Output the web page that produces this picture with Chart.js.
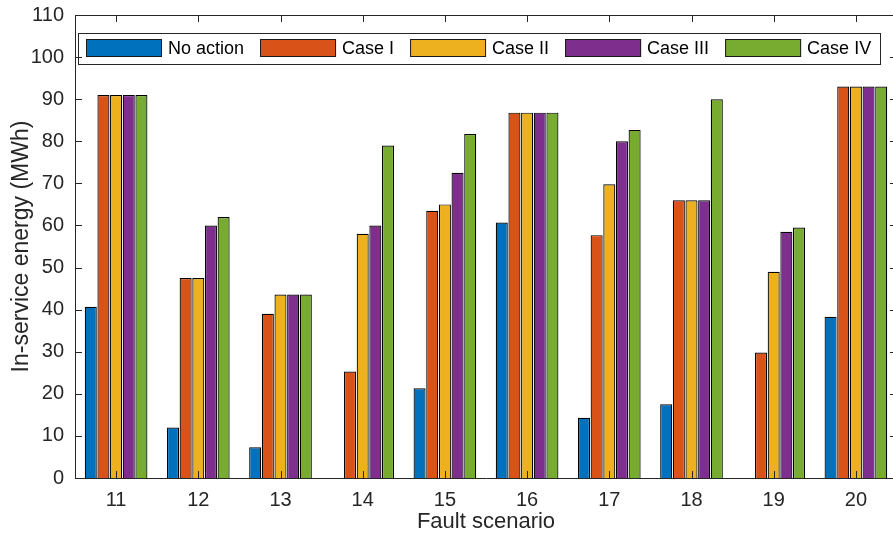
<!DOCTYPE html>
<html>
<head>
<meta charset="utf-8">
<title>In-service energy by fault scenario</title>
<script src="https://cdn.jsdelivr.net/npm/chart.js"></script>
<style>
  html, body { margin: 0; padding: 0; background: #fff; overflow: hidden; }
  #wrap { width: 900px; height: 535px; }
</style>
</head>
<body>
<div id="wrap"><canvas id="chart" width="900" height="535"></canvas></div>
<script>
// values (MWh)
const scenarios = ["11", "12", "13", "14", "15", "16", "17", "18", "19", "20"];
const noAction = [40.7, 12, 7.3, 0, 21.3, 60.7, 14.3, 17.5, 0, 38.3];
const caseI    = [91, 47.5, 39, 25.3, 63.5, 86.8, 57.7, 66, 29.8, 93];
const caseII   = [91, 47.5, 43.6, 58, 65, 86.8, 69.8, 66, 49, 93];
const caseIII  = [91, 60, 43.6, 60, 72.5, 86.8, 80, 66, 58.5, 93];
const caseIV   = [91, 62, 43.6, 79, 81.7, 86.8, 82.7, 90, 59.5, 93];

const seriesNames = ["No action", "Case I", "Case II", "Case III", "Case IV"];
const seriesColors = ["#0072BD", "#D95319", "#EDB120", "#7E2F8E", "#77AC30"];
const seriesData = [noAction, caseI, caseII, caseIII, caseIV];

const axisColor = "#262626";
const fontFamily = "'Liberation Sans', Arial, sans-serif";
Chart.defaults.font.family = fontFamily;
Chart.defaults.color = axisColor;

// MATLAB-ish legend box inside the axes (one row)
const legendPlugin = {
  id: "boxLegend",
  afterDatasetsDraw(chart) {
    const {ctx, chartArea: a} = chart;
    const boxW = 76, boxH = 18, gap = 6, spacing = 16;
    let x = a.left + 11;
    const top = a.top + 24;
    ctx.save();
    ctx.font = "18px " + fontFamily;
    ctx.textBaseline = "middle";
    const items = chart.data.datasets.map(ds => ({ label: ds.label, color: ds.backgroundColor }));
    let endX = x;
    items.forEach((it) => {
      ctx.fillStyle = it.color;
      ctx.fillRect(x, top, boxW, boxH);
      ctx.strokeStyle = "#1a1a1a";
      ctx.lineWidth = 1;
      ctx.strokeRect(x + 0.5, top + 0.5, boxW - 1, boxH - 1);
      ctx.fillStyle = "#000";
      ctx.fillText(it.label, x + boxW + gap, top + boxH / 2 + 1);
      const w = ctx.measureText(it.label).width;
      endX = x + boxW + gap + w;
      x = endX + spacing;
    });
    ctx.strokeStyle = axisColor;
    ctx.strokeRect(a.left + 3.5, a.top + 18.5, Math.round(endX + 9 - a.left - 3), 31);
    ctx.restore();
  }
};

// inward ticks on all four sides plus top/right box lines
const boxPlugin = {
  id: "matlabBox",
  afterDraw(chart) {
    const {ctx, chartArea: a, scales: {x, y}} = chart;
    const len = 7;
    ctx.save();
    ctx.strokeStyle = axisColor;
    ctx.lineWidth = 1;
    ctx.beginPath();
    y.ticks.forEach(t => {
      const py = Math.round(y.getPixelForValue(t.value)) + 0.5;
      ctx.moveTo(a.left, py); ctx.lineTo(a.left + len, py);
      ctx.moveTo(a.right, py); ctx.lineTo(a.right - len, py);
    });
    scenarios.forEach((_, i) => {
      const px = Math.round(x.getPixelForTick(i)) + 0.5;
      ctx.moveTo(px, a.bottom); ctx.lineTo(px, a.bottom - len);
      ctx.moveTo(px, a.top); ctx.lineTo(px, a.top + len);
    });
    ctx.moveTo(a.left, Math.round(a.top) + 0.5); ctx.lineTo(a.right, Math.round(a.top) + 0.5);
    ctx.moveTo(Math.round(a.right) + 0.5, a.top); ctx.lineTo(Math.round(a.right) + 0.5, a.bottom);
    ctx.stroke();
    ctx.restore();
  }
};

new Chart(document.getElementById("chart"), {
  type: "bar",
  data: {
    labels: scenarios,
    datasets: seriesNames.map((name, i) => ({
      label: name,
      data: seriesData[i],
      backgroundColor: seriesColors[i],
      borderColor: "#000",
      borderWidth: 1.2,
      categoryPercentage: 0.77,
      barPercentage: 0.95,
    })),
  },
  options: {
    responsive: false,
    animation: false,
    devicePixelRatio: 1,
    layout: { padding: { top: 13, right: 3, left: 0, bottom: 0 } },
    plugins: {
      tooltip: { enabled: false },
      legend: { display: false },
    },
    scales: {
      x: {
        grid: { display: false },
        border: { display: true, color: axisColor, width: 1 },
        ticks: { padding: 2, font: { size: 20 }, color: axisColor },
        title: { display: true, text: "Fault scenario", font: { size: 22 }, padding: { top: 0, bottom: 0 }, color: axisColor },
        afterFit: (s) => { s.height = 57; },
      },
      y: {
        min: 0,
        max: 110,
        ticks: { stepSize: 10, padding: 3, font: { size: 20 }, color: axisColor },
        grid: { display: false },
        border: { display: true, color: axisColor, width: 1 },
        title: { display: true, text: "In-service energy (MWh)", font: { size: 23 }, padding: { top: 8, bottom: 0 }, color: axisColor },
        afterFit: (s) => { s.width = 75; },
      },
    },
  },
  plugins: [legendPlugin, boxPlugin],
});
</script>
</body>
</html>
